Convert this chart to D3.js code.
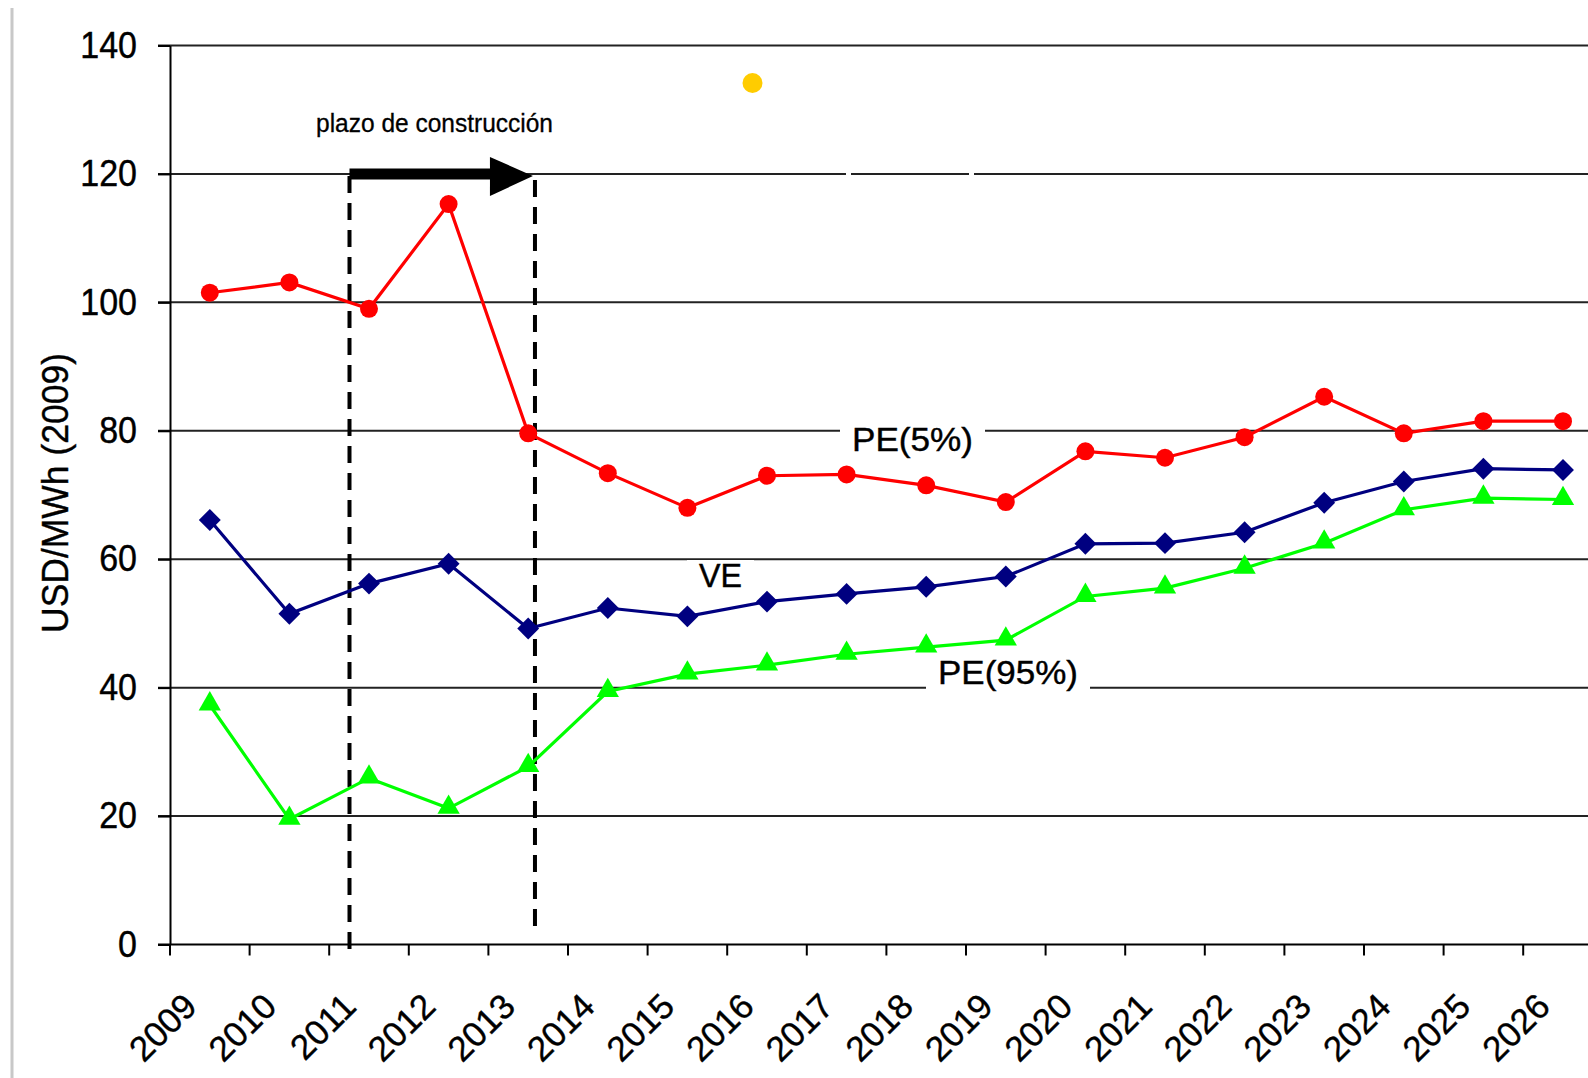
<!DOCTYPE html>
<html>
<head>
<meta charset="utf-8">
<script src="https://cdn.jsdelivr.net/npm/d3@7"></script>
<style>
body { margin: 0; background: #fff; overflow: hidden; }
text { font-family: "Liberation Sans", Arial, sans-serif; fill: #000; stroke: #000; stroke-width: 0.4px; }
</style>
</head>
<body>
<div id="chart"></div>
<script>
// data
var years = ['2009', '2010', '2011', '2012', '2013', '2014', '2015', '2016', '2017',
    '2018', '2019', '2020', '2021', '2022', '2023', '2024', '2025', '2026'];
var pe5 = [101.5, 103.1, 99.0, 115.3, 79.6, 73.4, 68.0, 73.0, 73.2,
    71.5, 68.9, 76.8, 75.8, 79.0, 85.3, 79.6, 81.5, 81.5];
var ve = [66.1, 51.5, 56.2, 59.3, 49.2, 52.4, 51.1, 53.4, 54.6,
    55.7, 57.3, 62.4, 62.5, 64.2, 68.8, 72.1, 74.1, 73.9];
var pe95 = [37.3, 19.5, 25.9, 21.2, 27.7, 39.4, 42.1, 43.5, 45.2,
    46.3, 47.4, 54.2, 55.5, 58.6, 62.5, 67.7, 69.5, 69.3];
var yTicks = [0, 20, 40, 60, 80, 100, 120, 140];
// construction period (fractional position on the year axis)
var construction = [2011.255, 2013.585];

var svgWidth = 1588;
var svgHeight = 1078;

var margin = { left: 170, top: 45.5 };
var axisY = 944.5;
var bandW = 79.6;

var svg = d3.select('#chart').append('svg')
    .attr('width', svgWidth)
    .attr('height', svgHeight)

// scales
var xScale = d3.scaleBand()
    .domain(years)
    .range([margin.left, margin.left + years.length * bandW])
    .padding(0)

var yScale = d3.scaleLinear()
    .domain([0, 140])
    .range([axisY, margin.top])

function xYear(v) {
    var base = Math.floor(v);
    return xScale(String(base)) + (v - base) * xScale.bandwidth();
}

// light border on the left
svg.append('line')
    .attr('x1', 12).attr('x2', 12)
    .attr('y1', 8).attr('y2', svgHeight)
    .attr('stroke', '#c8c8c8')
    .attr('stroke-width', 3)

// gridlines
svg.append('g').selectAll('line')
    .data(yTicks.filter(d => d > 0))
    .enter()
    .append('line')
    .attr('x1', margin.left - 12)
    .attr('x2', svgWidth)
    .attr('y1', d => yScale(d))
    .attr('y2', d => yScale(d))
    .attr('stroke', '#222')
    .attr('stroke-width', 2)

// small breaks in the 120 line
svg.append('rect').attr('x', 846).attr('y', yScale(120) - 3).attr('width', 5).attr('height', 6).attr('fill', '#fff')
svg.append('rect').attr('x', 969).attr('y', yScale(120) - 3).attr('width', 5).attr('height', 6).attr('fill', '#fff')

// y axis
var yAxis = svg.append('g')
    .attr('transform', `translate(${margin.left},0)`)
    .call(d3.axisLeft(yScale).tickValues(yTicks).tickSize(12).tickSizeOuter(0).tickPadding(21))

yAxis.select('.domain').attr('stroke', '#000').attr('stroke-width', 2)
yAxis.selectAll('.tick line').attr('stroke', '#000').attr('stroke-width', 2)
yAxis.selectAll('text')
    .style('font-family', '"Liberation Sans", Arial, sans-serif')
    .style('font-size', '34px')
    .attr('transform', 'scale(1,1.08)')
    .attr('fill', '#000')

// x axis line and boundary ticks
svg.append('line')
    .attr('x1', margin.left - 12)
    .attr('x2', svgWidth)
    .attr('y1', axisY)
    .attr('y2', axisY)
    .attr('stroke', '#000')
    .attr('stroke-width', 2)

svg.append('g').selectAll('line')
    .data(years)
    .enter()
    .append('line')
    .attr('x1', d => xScale(d))
    .attr('x2', d => xScale(d))
    .attr('y1', axisY)
    .attr('y2', axisY + 11)
    .attr('stroke', '#000')
    .attr('stroke-width', 2)

// x labels
var xAxis = svg.append('g')
    .attr('transform', `translate(0,${axisY})`)
    .call(d3.axisBottom(xScale).tickSize(0).tickPadding(0))

xAxis.select('.domain').remove()
xAxis.selectAll('text')
    .attr('x', 0)
    .attr('y', 0)
    .attr('dy', 0)
    .attr('transform', 'translate(-11,64) rotate(-45)')
    .style('text-anchor', 'end')
    .style('font-family', '"Liberation Sans", Arial, sans-serif')
    .style('font-size', '35px')
    .attr('fill', '#000')

// y title
svg.append('text')
    .attr('transform', 'translate(68,493) rotate(-90)')
    .attr('text-anchor', 'middle')
    .attr('font-size', 37)
    .attr('textLength', 280)
    .attr('lengthAdjust', 'spacingAndGlyphs')
    .text('USD/MWh (2009)')

// series labels sitting on the gridlines
var seriesLabels = [
    { text: 'PE(5%)', x: 852, y: 451, w: 121 },
    { text: 'VE', x: 699, y: 587, w: 43 },
    { text: 'PE(95%)', x: 938, y: 684, w: 140 }
]

svg.append('g').selectAll('rect')
    .data(seriesLabels)
    .enter()
    .append('rect')
    .attr('x', d => d.x - 12)
    .attr('y', d => d.y - 27)
    .attr('width', d => d.w + 24)
    .attr('height', 33)
    .attr('fill', '#fff')

svg.append('g').selectAll('text')
    .data(seriesLabels)
    .enter()
    .append('text')
    .attr('x', d => d.x)
    .attr('y', d => d.y)
    .attr('font-size', 33)
    .attr('textLength', d => d.w)
    .attr('lengthAdjust', 'spacingAndGlyphs')
    .text(d => d.text)

// construction period: dashed lines and arrow
var x0 = xYear(construction[0]);
var x1 = xYear(construction[1]);

svg.append('line')
    .attr('x1', x0).attr('x2', x0)
    .attr('y1', 176).attr('y2', 950)
    .attr('stroke', '#000')
    .attr('stroke-width', 4)
    .attr('stroke-dasharray', '17,10')

svg.append('line')
    .attr('x1', x1).attr('x2', x1)
    .attr('y1', 180).attr('y2', 928)
    .attr('stroke', '#000')
    .attr('stroke-width', 4)
    .attr('stroke-dasharray', '17,10')

svg.append('rect')
    .attr('x', x0)
    .attr('y', 168.5)
    .attr('width', x1 - x0 - 44)
    .attr('height', 11)
    .attr('fill', '#000')

svg.append('path')
    .attr('d', `M${x1 - 45},157 L${x1 - 2},176 L${x1 - 45},196 Z`)
    .attr('fill', '#000')

svg.append('text')
    .attr('x', 316)
    .attr('y', 132)
    .attr('font-size', 25)
    .attr('textLength', 237)
    .attr('lengthAdjust', 'spacingAndGlyphs')
    .style('stroke-width', '0.3px')
    .text('plazo de construcción')

// yellow dot
svg.append('circle')
    .attr('cx', 752.5)
    .attr('cy', 83)
    .attr('r', 10)
    .attr('fill', '#ffcc00')

// series
var series = [
    { name: 'PE(5%)', values: pe5, color: '#ff0000', marker: 'circle' },
    { name: 'VE', values: ve, color: '#000080', marker: 'diamond' },
    { name: 'PE(95%)', values: pe95, color: '#00ff00', marker: 'triangle' }
]

var line = d3.line()
    .x((d, i) => xScale(years[i]) + xScale.bandwidth() / 2)
    .y(d => yScale(d))

var diamond = d3.symbol().type(d3.symbolSquare).size(240)
var triangle = d3.symbol().type(d3.symbolTriangle).size(215)

series.forEach(s => {
    var g = svg.append('g')

    g.append('path')
        .attr('d', line(s.values))
        .attr('fill', 'none')
        .attr('stroke', s.color)
        .attr('stroke-width', 3.2)

    var pts = g.selectAll('.pt')
        .data(s.values)
        .enter()

    if (s.marker === 'circle') {
        pts.append('circle')
            .attr('cx', (d, i) => xScale(years[i]) + xScale.bandwidth() / 2)
            .attr('cy', d => yScale(d))
            .attr('r', 9)
            .attr('fill', s.color)
    } else if (s.marker === 'diamond') {
        pts.append('path')
            .attr('d', diamond)
            .attr('transform', (d, i) => `translate(${xScale(years[i]) + xScale.bandwidth() / 2},${yScale(d)}) rotate(45)`)
            .attr('fill', s.color)
    } else {
        pts.append('path')
            .attr('d', triangle)
            .attr('transform', (d, i) => `translate(${xScale(years[i]) + xScale.bandwidth() / 2},${yScale(d) - 1})`)
            .attr('fill', s.color)
    }
})
</script>
</body>
</html>
